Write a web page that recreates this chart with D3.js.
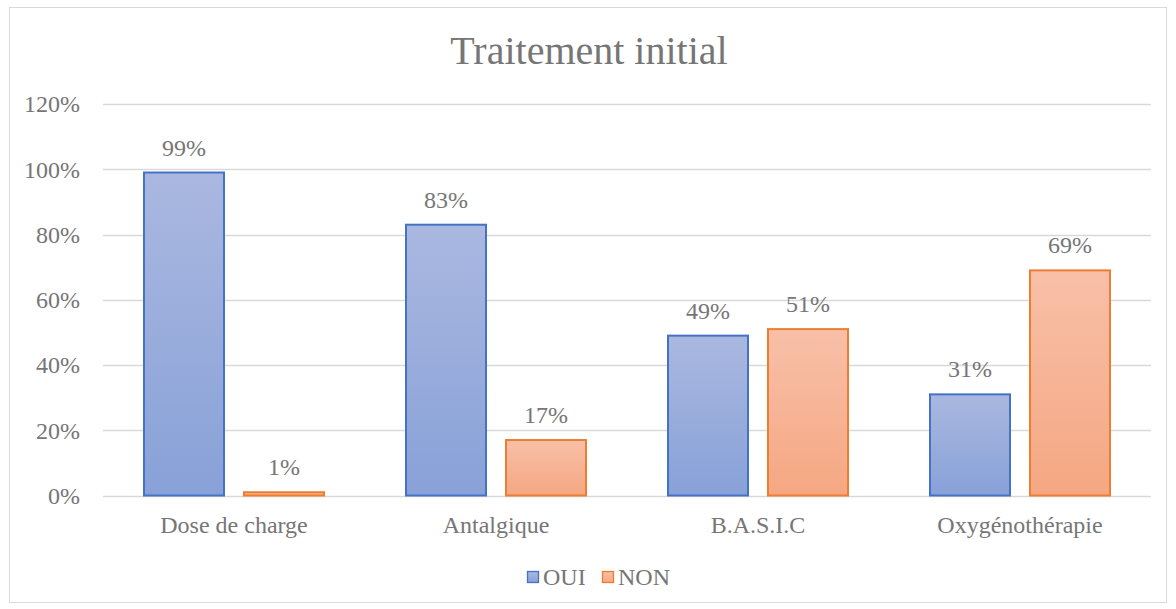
<!DOCTYPE html>
<html>
<head>
<meta charset="utf-8">
<script src="https://cdn.jsdelivr.net/npm/d3@7/dist/d3.min.js"></script>
<style>
  body { margin: 0; background: #fff; }
  svg text { font-family: "Liberation Serif", "Times New Roman", serif; fill: #767676; }
</style>
</head>
<body>
<svg id="chart" width="1176" height="609"></svg>
<script>
// Treatment categories and share of patients (in %)
const categories = ["Dose de charge", "Antalgique", "B.A.S.I.C", "Oxygénothérapie"];
const seriesNames = ["OUI", "NON"];
const ouiValues = [99, 83, 49, 31];
const nonValues = [1, 17, 51, 69];
const yTicks = [0, 20, 40, 60, 80, 100, 120];
const title = "Traitement initial";

const series = [
  { name: seriesNames[0], values: ouiValues, stroke: "#4472C4", top: "#AAB8E0", bottom: "#88A1D8", grad: "gOui" },
  { name: seriesNames[1], values: nonValues, stroke: "#ED7D31", top: "#F8C0A8", bottom: "#F5A782", grad: "gNon" }
];

const svg = d3.select("#chart");
const W = 1176, H = 609;
const FS = 24;
const FONT = '"Liberation Serif", "Times New Roman", serif';

// chart frame
svg.append("rect").attr("x", 9.5).attr("y", 7.5).attr("width", 1157).attr("height", 595)
  .attr("fill", "#fff").attr("stroke", "#d9d9d9").attr("stroke-width", 1);

const defs = svg.append("defs");
series.forEach(s => {
  const g = defs.append("linearGradient").attr("id", s.grad).attr("x1", 0).attr("y1", 0).attr("x2", 0).attr("y2", 1);
  g.append("stop").attr("offset", "0%").attr("stop-color", s.top);
  g.append("stop").attr("offset", "100%").attr("stop-color", s.bottom);
});

const plot = { left: 103, right: 1151, top: 104, bottom: 495.5 };

const x = d3.scaleBand().domain(categories).range([plot.left, plot.right]).padding(0);
const y = d3.scaleLinear().domain([0, 120]).range([plot.bottom, plot.top]);

// horizontal gridlines
svg.append("g").selectAll("line").data(yTicks).join("line")
  .attr("x1", plot.left).attr("x2", plot.right)
  .attr("y1", d => Math.round(y(d)) + 0.5).attr("y2", d => Math.round(y(d)) + 0.5)
  .attr("stroke", "#d9d9d9").attr("stroke-width", 1.3);

// y axis labels
const yAxis = d3.axisLeft(y).tickValues(yTicks).tickFormat(d => d + "%").tickSize(0).tickPadding(0);
const ya = svg.append("g").attr("transform", `translate(${plot.left - 23},0)`).call(yAxis);
ya.select(".domain").remove();
ya.attr("font-family", FONT);
ya.selectAll("text").attr("font-size", FS).attr("dy", "0.33em")
  .style("font-family", FONT).attr("fill", "#767676");

// bars: two per category with a small gap between them
const groupW = x.bandwidth();
const barW = groupW * 81 / 262;
const gapW = groupW * 19 / 262;
const offset = (groupW - 2 * barW - gapW) / 2;
const sx = d3.scaleOrdinal().domain(seriesNames).range([offset, offset + barW + gapW]);

series.forEach(s => {
  const data = categories.map((c, i) => ({ c, v: s.values[i] }));
  const g = svg.append("g");
  g.selectAll("rect").data(data).join("rect")
    .attr("x", d => x(d.c) + sx(s.name) + 0.5)
    .attr("y", d => y(d.v))
    .attr("width", barW - 1)
    .attr("height", d => y(0) - y(d.v))
    .attr("fill", `url(#${s.grad})`)
    .attr("stroke", s.stroke).attr("stroke-width", 2);
  g.selectAll("text").data(data).join("text")
    .attr("x", d => x(d.c) + sx(s.name) + barW / 2)
    .attr("y", d => y(d.v) - 17)
    .attr("text-anchor", "middle").attr("font-size", FS)
    .style("font-family", FONT)
    .text(d => d.v + "%");
});

// category labels
const xAxis = d3.axisBottom(x).tickSize(0).tickPadding(0);
const xa = svg.append("g").attr("transform", `translate(0,${plot.bottom + 37})`).call(xAxis);
xa.select(".domain").remove();
xa.attr("font-family", FONT);
xa.selectAll("text").attr("font-size", FS).attr("dy", 0)
  .style("font-family", FONT).attr("fill", "#767676");

// title
svg.append("text").attr("x", W / 2 + 1).attr("y", 64).attr("text-anchor", "middle")
  .attr("font-size", 40).style("font-family", FONT).text(title);

// legend
const legendX = [527, 602];
series.forEach((s, i) => {
  svg.append("rect").attr("x", legendX[i] + 0.5).attr("y", 571.5).attr("width", 11).attr("height", 11)
    .attr("fill", `url(#${s.grad})`).attr("stroke", s.stroke).attr("stroke-width", 1.3);
  svg.append("text").attr("x", legendX[i] + 16).attr("y", 585).attr("font-size", FS)
    .style("font-family", FONT).text(s.name);
});
</script>
</body>
</html>
